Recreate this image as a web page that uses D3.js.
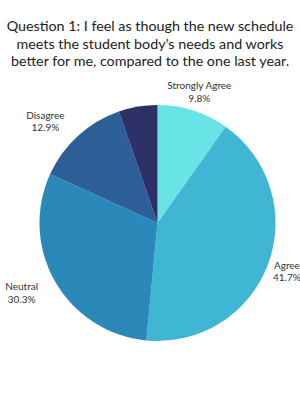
<!DOCTYPE html>
<html>
<head>
<meta charset="utf-8">
<script src="https://cdn.jsdelivr.net/npm/d3@7"></script>
<style>
  html, body { margin: 0; padding: 0; background: #fff; }
  svg { display: block; }
</style>
</head>
<body>
<div id="chart"></div>
<script>
const titleLines = [
  "Question 1: I feel as though the new schedule",
  "meets the student body’s needs and works",
  "better for me, compared to the one last year."
];
const categories = ["Strongly Agree", "Agree", "Neutral", "Disagree", "Strongly Disagree"];
const values = [9.8, 41.7, 30.3, 12.9, 5.3];
const showLabel = [true, true, true, true, false];
const colors = ["#68e3e6", "#40b6d5", "#2b89b9", "#2c5f96", "#2e3168"];

const width = 300, height = 400;
const cx = 157.5, cy = 223, radius = 118, labelRadius = 138;
const font = "Lato, sans-serif";

const svg = d3.select("#chart").append("svg")
  .attr("width", width)
  .attr("height", height);

svg.append("text")
  .attr("x", 150)
  .attr("y", 31)
  .attr("text-anchor", "middle")
  .attr("font-family", font)
  .attr("font-size", 14.3)
  .attr("fill", "#222")
  .selectAll("tspan")
  .data(titleLines)
  .join("tspan")
  .attr("x", 150)
  .attr("dy", (d, i) => i === 0 ? 0 : 17.5)
  .text(d => d);

const color = d3.scaleOrdinal(categories, colors);

const pie = d3.pie().sort(null).value(d => d.value);
const arcs = pie(categories.map((c, i) => ({ name: c, value: values[i], show: showLabel[i] })));

const arc = d3.arc().innerRadius(0).outerRadius(radius);
const labelArc = d3.arc().innerRadius(labelRadius).outerRadius(labelRadius);

const g = svg.append("g").attr("transform", `translate(${cx},${cy})`);

g.selectAll("path")
  .data(arcs)
  .join("path")
  .attr("d", arc)
  .attr("fill", d => color(d.data.name));

const labels = g.selectAll("g.label")
  .data(arcs.filter(d => d.data.show))
  .join("g")
  .attr("class", "label");

labels.append("text")
  .attr("text-anchor", "middle")
  .attr("font-family", font)
  .attr("font-size", 10)
  .attr("fill", "#333")
  .selectAll("tspan")
  .data(d => [d.data.name, d.data.value.toFixed(1) + "%"])
  .join("tspan")
  .attr("x", 0)
  .attr("y", (d, i) => i === 0 ? -2 : 10.5)
  .text(d => d);

// left-side labels sit further out by half their width
labels.attr("transform", function(d) {
  const [x, y] = labelArc.centroid(d);
  const w = this.getBBox().width;
  return `translate(${x < 0 ? x - w / 2 : x},${y})`;
});
</script>
</body>
</html>
